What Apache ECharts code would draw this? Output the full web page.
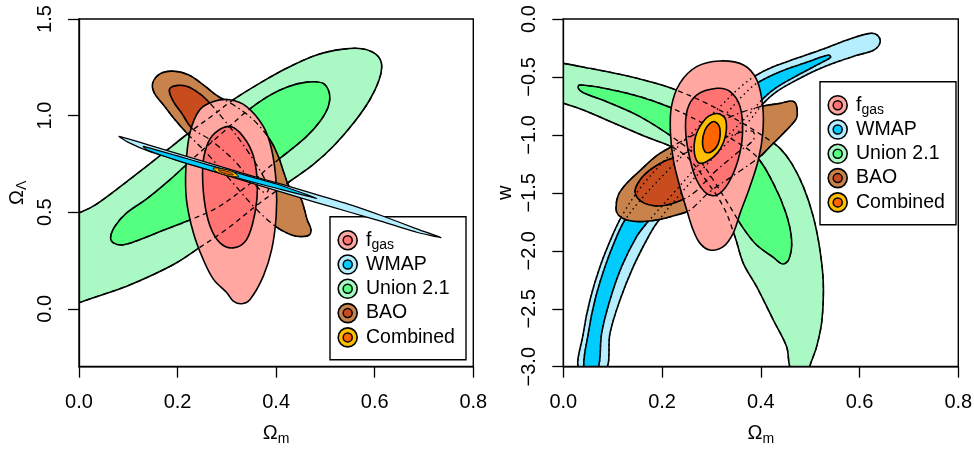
<!DOCTYPE html>
<html><head><meta charset="utf-8">
<script src="https://cdn.jsdelivr.net/npm/echarts@6/dist/echarts.min.js"></script>
<style>html,body{margin:0;padding:0;background:#fff}#c{width:974px;height:450px}</style>
</head><body><div id="c"></div>
<script>
// ---------------- tick values ----------------
const xTicks = [0, 0.2, 0.4, 0.6, 0.8];
const yTicksLeft = [0, 0.5, 1.0, 1.5];
const yTicksRight = [-3, -2.5, -2, -1.5, -1, -0.5, 0];
const legendLabels = ['{m|f}{s|gas}', '{m|WMAP}', '{m|Union 2.1}', '{m|BAO}', '{m|Combined}'];

// ---------------- left panel: (Omega_m, Omega_Lambda) contours ----------------
const L_union95 = [[-0.05,0.436],[0,0.496],[0.029,0.531],[0.076,0.617],[0.131,0.725],[0.178,0.82],[0.225,0.915],[0.273,1.004],[0.313,1.082],[0.367,1.168],[0.421,1.245],[0.482,1.314],[0.536,1.344],[0.577,1.345],[0.604,1.314],[0.614,1.263],[0.609,1.185],[0.590,1.082],[0.557,0.961],[0.516,0.841],[0.475,0.746],[0.428,0.660],[0.367,0.548],[0.300,0.413],[0.239,0.307],[0.198,0.238],[0.151,0.177],[0.097,0.117],[0.043,0.069],[0,0.031],[-0.05,-0.013]];
const L_union68 = [[0.0642,0.3721],[0.073,0.4272],[0.0967,0.4961],[0.1373,0.5685],[0.1846,0.668],[0.232,0.779],[0.2861,0.9],[0.3402,1.0215],[0.3808,1.0956],[0.4213,1.1473],[0.4619,1.1731],[0.4944,1.168],[0.5079,1.1163],[0.5058,1.0474],[0.4903,0.975],[0.4619,0.8923],[0.4281,0.82],[0.3875,0.7373],[0.3402,0.6339],[0.2793,0.522],[0.2184,0.4531],[0.1711,0.4065],[0.1238,0.3583],[0.0899,0.3308],[0.0697,0.3411]];
const L_bao95 = [[0.1495,1.168],[0.1643,1.2162],[0.1914,1.23],[0.2218,1.211],[0.2523,1.1593],[0.2793,1.1042],[0.3131,1.056],[0.3537,0.9785],[0.3875,0.8751],[0.4044,0.789],[0.4159,0.7028],[0.4281,0.6253],[0.4484,0.5788],[0.4565,0.522],[0.4633,0.4582],[0.4707,0.41],[0.4653,0.379],[0.4416,0.3755],[0.4213,0.3928],[0.401,0.422],[0.3604,0.5134],[0.3064,0.6684],[0.259,0.8062],[0.2218,0.901],[0.1948,0.9785],[0.1711,1.056],[0.1529,1.1163]];
const L_bao68 = [[0.1833,1.1335],[0.1948,1.1542],[0.2151,1.1542],[0.2353,1.1301],[0.259,1.0818],[0.2996,0.9612],[0.3402,0.8234],[0.374,0.6856],[0.3842,0.6167],[0.3774,0.5995],[0.3537,0.6512],[0.3131,0.7718],[0.2658,0.8751],[0.2286,0.9354],[0.2083,1.0129],[0.1914,1.0732]];
const L_fgas95 = [[0.306,1.082],[0.340,1.047],[0.374,0.944],[0.391,0.823],[0.400,0.651],[0.400,0.479],[0.391,0.307],[0.374,0.169],[0.347,0.048],[0.330,0.026],[0.313,0.040],[0.300,0.083],[0.273,0.152],[0.252,0.255],[0.232,0.393],[0.218,0.565],[0.217,0.737],[0.225,0.910],[0.245,1.030],[0.273,1.073]];
const L_fgas68 = [[0.306,0.944],[0.333,0.892],[0.354,0.789],[0.362,0.634],[0.357,0.496],[0.340,0.358],[0.313,0.315],[0.286,0.341],[0.266,0.427],[0.254,0.565],[0.251,0.737],[0.259,0.841],[0.276,0.910]];
const L_wmap95 = [[0.0812,0.8923],[0.144,0.8458],[0.2117,0.7941],[0.2793,0.7425],[0.3469,0.6908],[0.4145,0.6426],[0.4822,0.5909],[0.5498,0.5392],[0.6174,0.4789],[0.6851,0.4134],[0.7344,0.3686],[0.6851,0.3962],[0.6174,0.4496],[0.5498,0.4996],[0.4822,0.5495],[0.4145,0.6012],[0.3469,0.6529],[0.2793,0.7063],[0.2117,0.7597],[0.144,0.8131],[0.1001,0.8613]];
const L_wmap68 = [[0.1305,0.8407],[0.1981,0.7924],[0.2658,0.7425],[0.3334,0.6942],[0.401,0.646],[0.4822,0.5719],[0.401,0.6236],[0.3334,0.6684],[0.2658,0.7166],[0.1981,0.7683],[0.1373,0.8234]];
const L_comb95 = [[0.2725,0.7287],[0.2894,0.7252],[0.3097,0.7115],[0.3239,0.6856],[0.3117,0.6839],[0.2915,0.696],[0.2759,0.7149]];
const L_comb68 = [[0.2827,0.7201],[0.3064,0.7063],[0.3131,0.6925],[0.2996,0.6977],[0.2861,0.7098]];

// ---------------- right panel: (Omega_m, w) contours ----------------
const R_union95 = [[-0.05,-0.352],[0,-0.383],[0.054,-0.4257],[0.1215,-0.4832],[0.1755,-0.5407],[0.2194,-0.5982],[0.2903,-0.7277],[0.3578,-0.8858],[0.4118,-1.0296],[0.4388,-1.1159],[0.4624,-1.2453],[0.4861,-1.4467],[0.5063,-1.7055],[0.5198,-1.9931],[0.5266,-2.2807],[0.5239,-2.5971],[0.5131,-2.8272],[0.501,-2.9709],[0.4962,-3.03],[0.4624,-3.03],[0.4523,-2.8272],[0.4253,-2.5971],[0.3916,-2.3095],[0.3646,-2.1082],[0.3477,-1.878],[0.3241,-1.6192],[0.2835,-1.3604],[0.2498,-1.1878],[0.216,-1.0958],[0.1755,-1.0296],[0.135,-0.9577],[0.0878,-0.8714],[0.0405,-0.7852],[0,-0.7277],[-0.05,-0.665]];
const R_union68 = [[0.0324,-0.5695],[0.0878,-0.6011],[0.1553,-0.6701],[0.216,-0.7622],[0.2835,-0.9002],[0.3443,-1.044],[0.3916,-1.1878],[0.4253,-1.4179],[0.451,-1.6767],[0.4624,-1.9068],[0.457,-2.0736],[0.4442,-2.1139],[0.4253,-2.0564],[0.3916,-1.95],[0.3646,-1.8062],[0.3376,-1.6192],[0.3038,-1.3891],[0.27,-1.1878],[0.2295,-1.044],[0.1553,-0.8427],[0.0878,-0.7133],[0.0405,-0.6356],[0.0304,-0.5982]];
const R_wmap95 = [[0.0324,-3.03],[0.0405,-2.7121],[0.054,-2.4245],[0.0743,-2.1369],[0.1013,-1.8493],[0.1215,-1.6768],[0.1553,-1.4611],[0.2025,-1.231],[0.2565,-1.0009],[0.3105,-0.7852],[0.3578,-0.5896],[0.3916,-0.4832],[0.4253,-0.4113],[0.4726,-0.3394],[0.5266,-0.2589],[0.5806,-0.1726],[0.6211,-0.1237],[0.6366,-0.1409],[0.6414,-0.2042],[0.6292,-0.2675],[0.5941,-0.3135],[0.5536,-0.371],[0.5131,-0.44],[0.4726,-0.5263],[0.4321,-0.627],[0.4051,-0.7277],[0.3781,-0.8714],[0.3376,-1.044],[0.2835,-1.2885],[0.2295,-1.5473],[0.189,-1.763],[0.1688,-1.9068],[0.1418,-2.1369],[0.1148,-2.4245],[0.0945,-2.7121],[0.0851,-3.03]];
const R_wmap68 = [[0.0425,-3.03],[0.0506,-2.7121],[0.0641,-2.4245],[0.0844,-2.1369],[0.108,-1.878],[0.1249,-1.7343],[0.162,-1.533],[0.216,-1.2885],[0.27,-1.0584],[0.3241,-0.8427],[0.3646,-0.6557],[0.3916,-0.5551],[0.4388,-0.4544],[0.4928,-0.3739],[0.5367,-0.3106],[0.5415,-0.3307],[0.5266,-0.3681],[0.4793,-0.4746],[0.4321,-0.5896],[0.4051,-0.6845],[0.3781,-0.8139],[0.3308,-1.0153],[0.2768,-1.2453],[0.2228,-1.5042],[0.1688,-1.763],[0.1485,-1.878],[0.1181,-2.1369],[0.0945,-2.4245],[0.0776,-2.7121],[0.0689,-3.03]];
const R_bao95 = [[0.1067,-1.6336],[0.1114,-1.5186],[0.1283,-1.4179],[0.1553,-1.3086],[0.189,-1.1792],[0.2194,-1.1015],[0.27,-0.9865],[0.3241,-0.8714],[0.3646,-0.7995],[0.4051,-0.7507],[0.4388,-0.7277],[0.4624,-0.7075],[0.4712,-0.7334],[0.4739,-0.8283],[0.4692,-0.8772],[0.4456,-0.9865],[0.4186,-1.1015],[0.3983,-1.1878],[0.3511,-1.3316],[0.297,-1.4898],[0.2565,-1.648],[0.2295,-1.6911],[0.189,-1.7343],[0.1553,-1.7486],[0.1283,-1.7343],[0.1114,-1.6911]];
const R_bao68 = [[0.1452,-1.4898],[0.1553,-1.3891],[0.1755,-1.3028],[0.2025,-1.2309],[0.2295,-1.1878],[0.27,-1.1159],[0.3241,-1.0296],[0.3646,-0.9721],[0.3848,-0.9721],[0.3848,-1.044],[0.3511,-1.159],[0.3038,-1.3316],[0.2633,-1.5042],[0.2228,-1.5905],[0.189,-1.6135],[0.1587,-1.5761]];
const R_fgas95 = [[0.317,-0.362],[0.365,-0.397],[0.392,-0.526],[0.404,-0.756],[0.404,-0.986],[0.395,-1.217],[0.378,-1.447],[0.358,-1.677],[0.344,-1.849],[0.324,-1.964],[0.297,-1.993],[0.277,-1.936],[0.263,-1.821],[0.250,-1.648],[0.236,-1.447],[0.223,-1.217],[0.217,-0.986],[0.219,-0.756],[0.236,-0.555],[0.270,-0.411]];
const R_fgas68 = [[0.311,-0.598],[0.338,-0.627],[0.358,-0.756],[0.363,-0.986],[0.354,-1.217],[0.334,-1.418],[0.311,-1.519],[0.290,-1.504],[0.270,-1.389],[0.257,-1.217],[0.248,-0.986],[0.251,-0.785],[0.270,-0.656]];
const R_comb95 = [[0.304,-0.82],[0.317,-0.82],[0.329,-0.871],[0.328,-1.015],[0.314,-1.145],[0.29,-1.231],[0.273,-1.237],[0.265,-1.13],[0.27,-0.986],[0.289,-0.857]];
const R_comb68 = [[0.307,-0.886],[0.317,-0.943],[0.314,-1.073],[0.3,-1.145],[0.287,-1.145],[0.282,-1.058],[0.287,-0.958],[0.297,-0.9]];

// ---------------- styles ----------------
const FONT = '"Liberation Sans", Arial, Helvetica, sans-serif';
const COL = {
  fgas: ['#FFA7A0', '#FF7373'],
  wmap: ['#B5EEFF', '#00CCFF'],
  union: ['#AAF9C4', '#55FF80'],
  bao: ['#C8834D', '#C84C1E'],
  comb: ['#FFBF00', '#FF6600']
};
const legendColors = [COL.fgas, COL.wmap, COL.union, COL.bao, COL.comb];
const DASH = [5, 4], DOTDASH = [1.5, 3.5, 6, 3.5], DOT = [1.5, 3.5];

let zc = 2;
function layer(gi, pts, fill, o) {
  o = o || {};
  const smooth = o.smooth == null ? 0.35 : o.smooth;
  return {
    type: 'custom', xAxisIndex: gi, yAxisIndex: gi, clip: true, silent: true,
    z: zc++, data: pts,
    renderItem: function (params, api) {
      if (params.dataIndex !== 0) return null;
      const points = pts.map(function (p) { return api.coord(p); });
      return {
        type: 'polygon',
        shape: { points: points, smooth: smooth },
        style: { fill: fill || 'none', stroke: '#000', lineWidth: o.lw || 1.6, lineDash: o.dash || null, lineJoin: 'round' }
      };
    }
  };
}

const series = [
  // left
  layer(0, L_union95, COL.union[0]),
  layer(0, L_union68, COL.union[1]),
  layer(0, L_bao95, COL.bao[0]),
  layer(0, L_bao68, COL.bao[1]),
  layer(0, L_fgas95, COL.fgas[0]),
  layer(0, L_fgas68, COL.fgas[1]),
  layer(0, L_union95, null, { dash: DASH, lw: 1.3 }),
  layer(0, L_union68, null, { dash: DASH, lw: 1.3 }),
  layer(0, L_bao95, null, { dash: DOTDASH, lw: 1.3 }),
  layer(0, L_bao68, null, { dash: DOTDASH, lw: 1.3 }),
  layer(0, L_wmap95, COL.wmap[0], { smooth: 0.15, lw: 1.2 }),
  layer(0, L_wmap68, COL.wmap[1], { smooth: 0.15, lw: 1.2 }),
  layer(0, L_comb95, COL.comb[0], { smooth: 0.3, lw: 1 }),
  layer(0, L_comb68, COL.comb[1], { smooth: 0.3, lw: 0.8 }),
  // right
  layer(1, R_union95, COL.union[0]),
  layer(1, R_union68, COL.union[1]),
  layer(1, R_wmap95, COL.wmap[0]),
  layer(1, R_wmap68, COL.wmap[1]),
  layer(1, R_bao95, COL.bao[0]),
  layer(1, R_bao68, COL.bao[1]),
  layer(1, R_fgas95, COL.fgas[0]),
  layer(1, R_fgas68, COL.fgas[1]),
  layer(1, R_union95, null, { dash: DASH, lw: 1.3 }),
  layer(1, R_union68, null, { dash: DASH, lw: 1.3 }),
  layer(1, R_wmap95, null, { dash: DOT, lw: 1.4 }),
  layer(1, R_wmap68, null, { dash: DOT, lw: 1.4 }),
  layer(1, R_bao95, null, { dash: DOTDASH, lw: 1.3 }),
  layer(1, R_bao68, null, { dash: DOTDASH, lw: 1.3 }),
  layer(1, R_comb95, COL.comb[0], { smooth: 0.4 }),
  layer(1, R_comb68, COL.comb[1], { smooth: 0.4 })
];

function fmt(v) { return (v < 0 ? '\u2212' : '') + Math.abs(v).toFixed(1); }
const nameRich = {
  o: { fontSize: 20, fontFamily: FONT, color: '#000', lineHeight: 24, verticalAlign: 'middle' },
  s: { fontSize: 14, fontFamily: FONT, color: '#000', lineHeight: 13, verticalAlign: 'bottom' }
};
const legRich = {
  m: { fontSize: 19.5, fontFamily: FONT, color: '#000', lineHeight: 24, verticalAlign: 'middle' },
  s: { fontSize: 14, fontFamily: FONT, color: '#000', lineHeight: 13, verticalAlign: 'bottom' }
};
const lineStyle = { color: '#000', width: 1.3 };
function xAxisCfg(gi) {
  return {
    gridIndex: gi, type: 'value', min: 0, max: 0.8, z: 30,
    axisLine: { show: true, onZero: false, lineStyle: lineStyle },
    axisTick: { show: true, inside: false, length: 11, lineStyle: lineStyle, customValues: xTicks },
    splitLine: { show: false },
    axisLabel: { margin: 26, fontSize: 20, fontFamily: FONT, color: '#000', formatter: fmt, customValues: xTicks },
    name: '{o|\u03A9}{s|m}', nameLocation: 'middle', nameGap: 55, nameMoveOverlap: false,
    nameTextStyle: { fontSize: 20, fontFamily: FONT, color: '#000', rich: nameRich }
  };
}
function yAxisCfg(gi, min, max, ticks, name, gap) {
  return {
    gridIndex: gi, type: 'value', min: min, max: max, z: 30,
    axisLine: { show: true, onZero: false, lineStyle: lineStyle },
    axisTick: { show: true, inside: false, length: 11, lineStyle: lineStyle, customValues: ticks },
    splitLine: { show: false },
    axisLabel: { margin: 24, rotate: 90, fontSize: 20, fontFamily: FONT, color: '#000', formatter: fmt, customValues: ticks },
    name: name, nameLocation: 'middle', nameRotate: 90, nameGap: gap, nameMoveOverlap: false,
    nameTextStyle: { fontSize: 20, fontFamily: FONT, color: '#000', rich: nameRich }
  };
}

function legendGroup(x0, y0) {
  const children = [{ type: 'rect', shape: { x: 0, y: 0, width: 136, height: 143 }, style: { fill: '#fff', stroke: '#000', lineWidth: 1.4 } }];
  legendLabels.forEach(function (t, i) {
    const cy = 23.5 + i * 24.3;
    children.push({ type: 'circle', shape: { cx: 17.7, cy: cy, r: 9.5 }, style: { fill: legendColors[i][0], stroke: '#000', lineWidth: 1.6 } });
    children.push({ type: 'circle', shape: { cx: 17.7, cy: cy, r: 4.5 }, style: { fill: legendColors[i][1], stroke: '#000', lineWidth: 1.5 } });
    children.push({ type: 'text', x: 36, y: cy, style: { text: t, rich: legRich, fill: '#000', align: 'left', verticalAlign: 'middle', fontSize: 19.5, fontFamily: FONT } });
  });
  return { type: 'group', x: x0, y: y0, z: 100, children: children };
}

const chart = echarts.init(document.getElementById('c'), null, { renderer: 'canvas' });
chart.setOption({
  animation: false,
  backgroundColor: '#fff',
  grid: [
    { left: 79, top: 19, width: 394.3, height: 347.7, show: true, borderColor: '#000', borderWidth: 1.4, backgroundColor: 'transparent', z: 30, outerBoundsMode: 'none' },
    { left: 563.3, top: 19, width: 395, height: 347.7, show: true, borderColor: '#000', borderWidth: 1.4, backgroundColor: 'transparent', z: 30, outerBoundsMode: 'none' }
  ],
  xAxis: [xAxisCfg(0), xAxisCfg(1)],
  yAxis: [
    yAxisCfg(0, -0.3, 1.5, yTicksLeft, '{o|\u03A9}{s|\u039B}', 50),
    yAxisCfg(1, -3, 0, yTicksRight, '{o|w}', 46)
  ],
  series: series,
  graphic: [legendGroup(330, 216.7), legendGroup(820, 81.7)]
});
</script></body></html>
